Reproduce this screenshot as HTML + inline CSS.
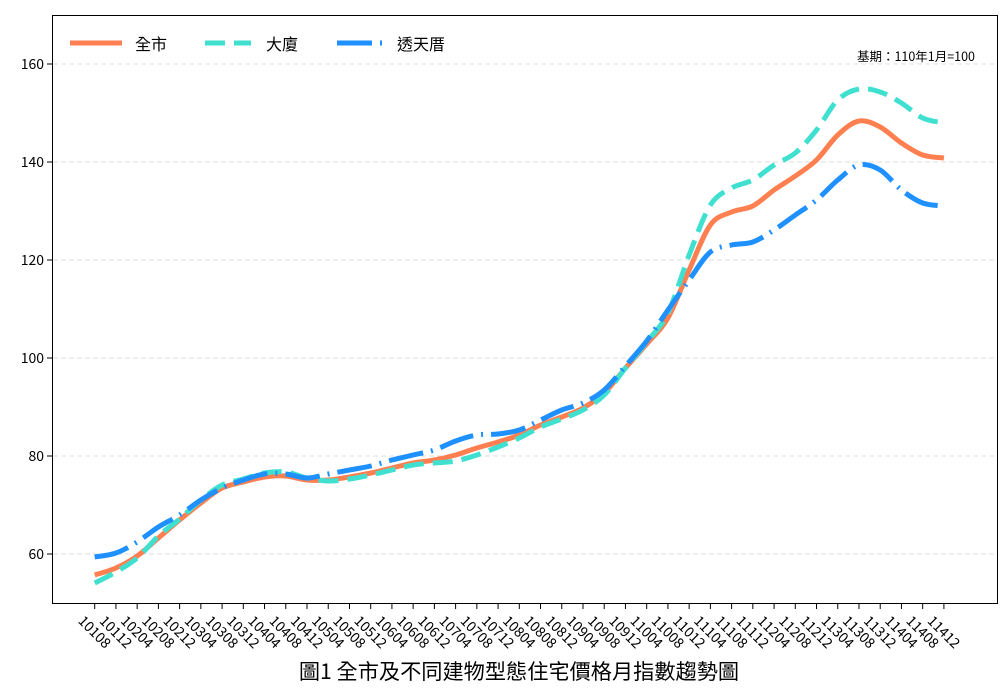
<!DOCTYPE html>
<html><head><meta charset="utf-8"><style>
html,body{margin:0;padding:0;background:#fff}
svg{display:block;font-family:"Noto Sans CJK TC","Liberation Sans",sans-serif}
</style></head><body>
<svg id="s" width="1000" height="700" xmlns="http://www.w3.org/2000/svg">
<rect x="0" y="0" width="1000" height="700" fill="#fff"/>
<g id="grid"></g>
<g id="lines"></g>
<rect x="52.5" y="15.5" width="945" height="588" fill="none" stroke="#000" stroke-width="1"/>
<g id="ticks"></g>
<g font-size="16" fill="#000">
<line x1="70" y1="43" x2="122" y2="43" stroke="#FF7F50" stroke-width="5"/>
<text x="135" y="50">全市</text>
<line x1="205" y1="43" x2="251" y2="43" stroke="#40E0D0" stroke-width="5" stroke-dasharray="20 9"/>
<text x="266" y="50">大廈</text>
<line x1="337" y1="43" x2="383" y2="43" stroke="#1E90FF" stroke-width="5" stroke-dasharray="35 8 2 8"/>
<text x="397" y="50">透天厝</text>
</g>
<text x="975" y="61" font-size="12.5" text-anchor="end">基期：110年1月=100</text>
<text x="519" y="679" font-size="21.2" text-anchor="middle">圖1 全市及不同建物型態住宅價格月指數趨勢圖</text>
</svg>
<script>
const NS="http://www.w3.org/2000/svg";
function el(p,t,a,txt){const e=document.createElementNS(NS,t);for(const k in a)e.setAttribute(k,a[k]);if(txt!==undefined)e.textContent=txt;p.appendChild(e);return e;}
const grid=document.getElementById('grid'),ticks=document.getElementById('ticks'),lines=document.getElementById('lines');
[60,80,100,120,140,160].forEach(v=>{const y=554-(v-60)*4.9;
el(grid,'line',{x1:53,x2:997,y1:y,y2:y,stroke:'#ddd','stroke-width':1,'stroke-dasharray':'5 3'});
el(ticks,'line',{x1:47,x2:52,y1:y,y2:y,stroke:'#000'});
el(ticks,'text',{x:44,y:y+5,'font-size':14,'text-anchor':'end'},v);});
const labels=[];for(let y=101;y<=114;y++)for(const m of['04','08','12']){const s=''+y+m;if(s>='10108'&&s<='11412')labels.push(s);}
const X=i=>94.7+21.23*i;
labels.forEach((l,i)=>{const x=X(i);el(ticks,'line',{x1:x,x2:x,y1:604,y2:609,stroke:'#000'});
el(ticks,'text',{x:x,y:637,'font-size':14,'text-anchor':'middle',transform:`rotate(45 ${x} 632)`},l);});
const A=[575,568,556,538,520,503,488,482,477,476,480,480,477,473,468,463,460,455,448,442,435,425,417,408,393,368,344,318,270,225,212,206,190,176,160,135,121,127,143,155,158];
const B=[583,572,558,536,519,500,485,479,473,472,478,481,479,475,470,465,463,461,455,447,438,427,419,410,395,368,342,313,255,205,188,180,165,153,130,100,89,92,103,118,123];
const C=[557,553,542,527,515,500,488,480,474,474,478,474,470,466,460,455,450,441,435,434,430,420,410,403,390,366,341,310,280,252,245,242,230,215,200,180,165,170,190,203,206];
function path(Y){const P=Y.map((y,i)=>[X(i),y]);let d=`M${P[0][0]},${P[0][1]}`;
for(let i=0;i<P.length-1;i++){const p0=P[i-1]||P[i],p1=P[i],p2=P[i+1],p3=P[i+2]||P[i+1];
d+=` C${p1[0]+(p2[0]-p0[0])/6},${p1[1]+(p2[1]-p0[1])/6} ${p2[0]-(p3[0]-p1[0])/6},${p2[1]-(p3[1]-p1[1])/6} ${p2[0]},${p2[1]}`;}return d;}
el(lines,'path',{d:path(A),fill:'none',stroke:'#FF7F50','stroke-width':5});
el(lines,'path',{d:path(B),fill:'none',stroke:'#40E0D0','stroke-width':5,'stroke-dasharray':'20 9'});
el(lines,'path',{d:path(C),fill:'none',stroke:'#1E90FF','stroke-width':5,'stroke-dasharray':'35 8 2 8'});
</script>
</body></html>
